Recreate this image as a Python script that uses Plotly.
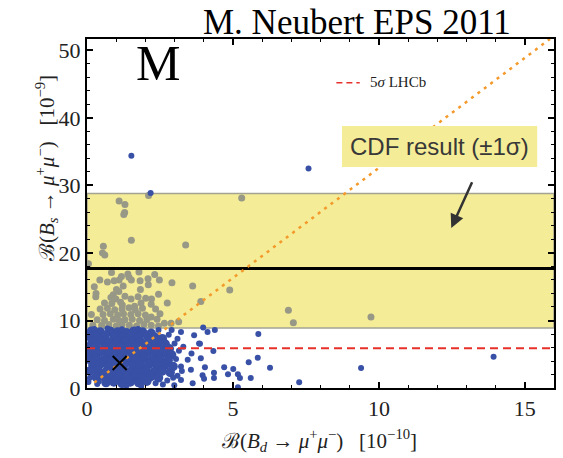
import plotly.graph_objects as go

# CDF measurement of B(Bs -> mu mu) in units of 1e-9
cdf_central = 17.7
cdf_low = 8.9
cdf_high = 28.8
# LHCb 5 sigma sensitivity line
lhcb_5sigma = 5.9
# MFV correlation line B(Bs)/B(Bd)
mfv_x = [0.25, 15.86]
mfv_y = [0.82, 51.7]
# Standard Model point
sm_x = [1.12]
sm_y = [3.7]

# Model points: dense core of the scan
blue_core = [
    (0.15, 8.4), (0.45, 8.3), (0.8, 8.4), (1.05, 8.3), (1.35, 8.2), (1.6, 8.4), (1.9, 8.3), (2.2, 8.1),
    (0.05, 7.7), (0.3, 7.6), (0.62, 7.8), (0.93, 7.6), (1.22, 7.5), (1.5, 7.7), (1.78, 7.6), (2.07, 7.8), (2.33, 7.5), (2.58, 7.3),
    (0.18, 6.9), (0.47, 7.0), (0.74, 6.8), (1.02, 6.9), (1.3, 7.0), (1.57, 6.8), (1.83, 6.9), (2.12, 7.0), (2.42, 6.7), (2.68, 6.5),
    (0.05, 6.1), (0.3, 6.2), (0.6, 6.0), (0.88, 6.1), (1.15, 6.2), (1.43, 6.0), (1.7, 6.1), (1.98, 6.2), (2.27, 6.0), (2.55, 6.1), (2.82, 5.8),
    (0.15, 5.2), (0.42, 5.3), (0.7, 5.1), (0.98, 5.2), (1.25, 5.3), (1.53, 5.1), (1.8, 5.2), (2.08, 5.3), (2.35, 5.1), (2.62, 5.2), (2.9, 4.9),
    (0.05, 4.3), (0.3, 4.4), (0.58, 4.2), (0.85, 4.3), (1.13, 4.4), (1.4, 4.2), (1.68, 4.3), (1.95, 4.4), (2.23, 4.2), (2.5, 4.3), (2.78, 4.1),
    (0.2, 3.4), (0.45, 3.5), (0.73, 3.3), (1.0, 3.4), (1.28, 3.5), (1.57, 3.3), (1.83, 3.4), (2.12, 3.5), (2.4, 3.3), (2.67, 3.4), (2.95, 3.2),
    (0.1, 2.5), (0.37, 2.6), (0.65, 2.4), (0.92, 2.5), (1.2, 2.6), (1.47, 2.4), (1.75, 2.5), (2.02, 2.6), (2.3, 2.4), (2.57, 2.5), (2.85, 2.3),
    (0.32, 1.6), (0.57, 1.7), (0.83, 1.5), (1.1, 1.6), (1.37, 1.7), (1.63, 1.5), (1.9, 1.6), (2.18, 1.7), (2.45, 1.5),
    (0.65, 0.8), (0.92, 0.9), (1.2, 0.7), (1.48, 0.9), (1.77, 0.8), (2.05, 1.0),
]
# Model points: sparse outskirts outside the CDF band
blue_sparse = [
    (3.22, 8.3), (3.67, 7.8), (4.13, 8.3), (3.84, 6.6), (3.58, 5.1), (3.9, 4.4), (3.22, 3.2), (3.56, 2.7),
    (3.96, 1.9), (3.22, 1.2), (3.62, 0.7), (2.99, 0.4), (1.86, 0.3), (0.1, 1.5), (0.35, 0.6), (2.6, 0.5),
    (3.3, 6.1), (3.1, 7.3), (2.9, 8.6), (3.45, 4.2), (3.1, 1.8), (2.75, 1.1), (0.05, 0.9),
    (0.25, 8.75), (0.7, 8.8), (1.2, 8.7), (1.75, 8.75), (2.45, 8.6), (2.8, 7.9), (3.0, 6.6), (3.15, 5.5),
    (3.05, 4.3), (3.25, 2.5), (2.95, 1.5), (0.4, 0.95), (1.35, 0.35), (2.35, 0.7), (2.7, 3.9),
    (3.98, 8.98), (4.38, 8.6), (5.87, 8.0), (3.87, 6.55), (4.33, 5.47), (5.85, 4.49), (5.54, 3.8),
    (4.04, 3.06), (4.7, 3.06), (5.01, 2.81), (6.27, 3.0), (4.35, 2.27), (4.83, 2.02), (5.17, 2.02),
    (5.24, 1.48), (4.01, 1.38), (4.35, 1.48), (5.61, 1.48), (7.27, 0.84), (5.17, 0.1), (9.39, 2.96),
    (13.93, 4.64), (1.52, 34.4), (2.18, 28.9), (7.59, 32.5),
]
# Model points falling inside the CDF band
gray_pts = [
    (5.3, 28.15), (4.89, 14.5), (6.9, 11.5), (9.73, 10.5), (7.07, 9.66), (3.9, 12.8),
    (1.1, 27.7), (1.3, 27.2), (1.29, 26.0), (1.26, 25.7), (2.11, 28.5), (1.52, 21.9), (0.56, 21.0),
    (0.53, 20.0), (0.61, 19.7), (3.38, 21.2), (0.05, 18.4),
    (0.84, 17.1), (1.4, 16.9), (1.78, 17.2), (0.44, 16.0), (0.7, 15.7), (0.93, 15.9), (1.1, 16.0),
    (1.18, 16.5), (1.44, 16.4), (1.52, 16.0), (1.82, 15.9), (2.09, 16.2), (2.32, 16.8), (2.48, 16.0),
    (2.1, 15.3), (1.83, 14.6), (1.24, 15.1), (1.01, 14.6), (1.09, 14.3), (0.25, 15.0), (0.31, 14.0),
    (2.91, 15.6), (3.62, 15.1), (0.9, 13.8), (0.82, 13.4), (0.99, 13.2), (1.51, 13.2), (2.01, 13.3),
    (2.21, 13.2), (1.21, 12.3), (1.44, 11.9), (1.63, 12.1), (2.65, 9.6), (2.88, 9.6), (3.14, 9.8), (2.2, 10.5),
    (0.2, 9.3), (0.5, 9.3), (0.75, 9.4), (1.0, 9.2), (1.2, 9.4), (1.45, 9.3), (1.7, 9.2), (1.95, 9.4), (2.2, 9.3),
    (2.45, 9.2),
    (0.35, 10.1), (0.6, 10.0), (0.9, 10.2), (1.1, 10.0), (1.3, 10.1), (1.55, 10.2), (1.8, 10.0), (2.05, 10.1),
    (2.4, 10.2),
    (0.15, 10.9), (0.55, 10.9), (0.8, 11.0), (1.05, 10.8), (1.25, 11.0), (1.5, 10.9), (1.75, 11.0),
    (2.0, 10.8), (2.5, 11.0),
    (0.45, 11.7), (0.7, 11.8), (0.95, 11.6), (1.2, 11.7), (1.65, 11.6), (1.9, 11.8), (2.35, 11.7),
    (0.6, 12.6), (0.85, 12.5), (1.15, 12.7), (1.85, 12.6), (2.2, 12.4), (2.75, 12.6),
    (0.3, 13.5), (1.3, 13.6), (1.75, 13.5), (2.45, 13.9),
]

BLUE = "#3850a6"
GRAY = "#989886"
YELLOW = "#f4ec96"
ORANGE = "#f39a2b"
SERIF = "Liberation Serif, Times New Roman, serif"

X0, X1 = 0, 16
Y0, Y1 = 0, 51.7

fig = go.Figure()

# CDF +-1 sigma band and its central value
fig.add_shape(type="rect", xref="x", yref="y", x0=X0, x1=X1, y0=cdf_low, y1=cdf_high,
              fillcolor=YELLOW, line=dict(color="#a3a393", width=1.5), layer="below")

fig.add_trace(go.Scatter(x=[p[0] for p in gray_pts], y=[p[1] for p in gray_pts], mode="markers",
                         marker=dict(color=GRAY, size=7), hoverinfo="skip", showlegend=False))
fig.add_trace(go.Scatter(x=[p[0] for p in blue_core], y=[p[1] for p in blue_core], mode="markers",
                         marker=dict(color=BLUE, size=9.5), hoverinfo="skip", showlegend=False))
fig.add_trace(go.Scatter(x=[p[0] for p in blue_sparse], y=[p[1] for p in blue_sparse], mode="markers",
                         marker=dict(color=BLUE, size=6), hoverinfo="skip", showlegend=False))

fig.add_trace(go.Scatter(x=[X0, X1], y=[cdf_central, cdf_central], mode="lines",
                         line=dict(color="black", width=3), hoverinfo="skip", showlegend=False))
fig.add_trace(go.Scatter(x=[X0, X1], y=[lhcb_5sigma, lhcb_5sigma], mode="lines",
                         line=dict(color="#e8302a", width=2, dash="8px,5px"), hoverinfo="skip", showlegend=False))
fig.add_trace(go.Scatter(x=mfv_x, y=mfv_y, mode="lines",
                         line=dict(color=ORANGE, width=2.5, dash="3px,5px"), hoverinfo="skip", showlegend=False))
fig.add_trace(go.Scatter(x=sm_x, y=sm_y, mode="markers",
                         marker=dict(symbol="x-thin-open", size=14, color="black",
                                     line=dict(color="black", width=2)),
                         hoverinfo="skip", showlegend=False))

# Legend entry for the LHCb line
fig.add_shape(type="line", xref="paper", yref="paper", x0=0.534, x1=0.584, y0=0.875, y1=0.875,
              line=dict(color="#e8302a", width=1.5, dash="6px,4px"))
fig.add_annotation(xref="paper", yref="paper", x=0.602, y=0.876, xanchor="left", yanchor="middle",
                   text="5<i>σ</i> LHCb", showarrow=False, font=dict(family=SERIF, size=15, color="#222"))

# CDF label box and arrow
fig.add_shape(type="rect", xref="paper", yref="paper", x0=0.546, x1=0.964, y0=0.633, y1=0.751,
              fillcolor=YELLOW, line=dict(width=0))
fig.add_annotation(xref="paper", yref="paper", x=0.755, y=0.692, xanchor="center", yanchor="middle",
                   text="CDF result (±1σ)", showarrow=False,
                   font=dict(family="Liberation Sans, Arial, sans-serif", size=24, color="#383838"))
fig.add_annotation(xref="x", yref="y", x=12.48, y=23.7, ax=21.5, ay=-47.3, text="",
                   showarrow=True, arrowhead=2, arrowsize=1.1, arrowwidth=2.5, arrowcolor="#333333")

# Panel letter and header
fig.add_annotation(xref="paper", yref="paper", x=0.1514, y=0.93, xanchor="center", yanchor="middle",
                   text="M", showarrow=False, font=dict(family=SERIF, size=50, color="black"))
fig.add_annotation(xref="paper", yref="paper", x=0.9126, y=1.046, xanchor="right", yanchor="middle",
                   text="M. Neubert EPS 2011", showarrow=False, font=dict(family=SERIF, size=35, color="black"))

# Axis titles
fig.add_annotation(xref="paper", yref="paper", x=0.4968, y=-0.149, xanchor="center", yanchor="middle",
                   text="ℬ(<i>B</i><sub><i>d</i></sub> → <i>μ</i><sup>+</sup><i>μ</i><sup>−</sup>)   [10<sup>−10</sup>]",
                   showarrow=False, font=dict(family=SERIF, size=21, color="#222"))
fig.add_annotation(xref="paper", yref="paper", x=-0.088, y=0.63, xanchor="center", yanchor="middle",
                   textangle=-90,
                   text="ℬ(<i>B</i><sub><i>s</i></sub> → <i>μ</i><sup>+</sup><i>μ</i><sup>−</sup>)   [10<sup>−9</sup>]",
                   showarrow=False, font=dict(family=SERIF, size=21, color="#222"))

axis_common = dict(showline=True, linecolor="black", linewidth=2, mirror="allticks", ticks="inside",
                   tickcolor="black", tickwidth=1.5, ticklen=6, showgrid=False, zeroline=False,
                   tickfont=dict(family=SERIF, size=22, color="#222"))

fig.update_xaxes(range=[X0, X1], tickvals=[0, 5, 10, 15],
                 minor=dict(dtick=1, ticks="inside", ticklen=3, tickcolor="black", tickwidth=1.2),
                 **axis_common)
fig.update_yaxes(range=[Y0, Y1], tickvals=[0, 10, 20, 30, 40, 50],
                 minor=dict(dtick=2, ticks="inside", ticklen=3, tickcolor="black", tickwidth=1.2),
                 **axis_common)

fig.update_layout(width=563, height=458, margin=dict(l=87, r=7, t=39, b=70),
                  paper_bgcolor="white", plot_bgcolor="white")

fig.write_html("out.html")
